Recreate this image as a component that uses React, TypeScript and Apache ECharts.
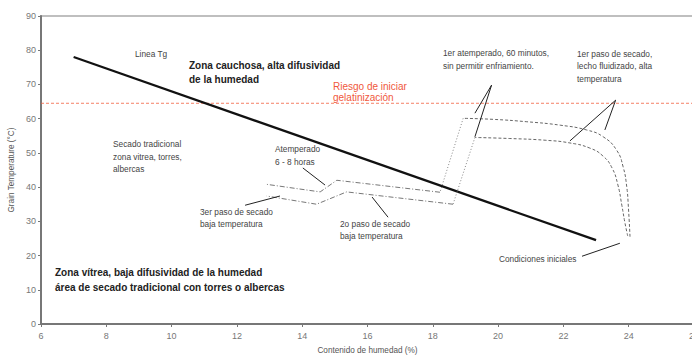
import React, { useEffect, useRef } from "react";
import * as echarts from "echarts";

// ---- data (moisture %, grain temperature °C) ----
const tgLine = [[7, 78], [23, 24.5]];
const gelatLimit = [[6, 64.5], [26, 64.5]];

const upperFluidized = [
  [24.04, 25.5], [23.99, 34.2], [23.94, 40.1], [23.83, 45.9], [23.63, 50.8],
  [23.22, 54.7], [22.71, 56.7], [21.9, 58.1], [20.88, 59.1], [19.85, 59.8], [18.93, 60.1],
];
const upperTemper = [[18.93, 60.1], [18.22, 38.5]];
const upperLowTemp = [[18.22, 38.5], [15.06, 42.0], [14.55, 38.6], [12.92, 40.8]];

const lowerFluidized = [
  [23.97, 25.7], [23.88, 29.8], [23.79, 34.7], [23.67, 40.6], [23.49, 45.6],
  [23.21, 49.1], [22.81, 51.4], [22.2, 52.9], [21.44, 53.7], [20.36, 54.2], [19.29, 54.5],
];
const lowerTemper = [[19.29, 54.5], [18.62, 35.0]];
const lowerLowTemp = [[18.62, 35.0], [15.36, 38.6], [14.44, 35.0], [12.91, 37.4]];

// arrows: [fromX, fromY, toX, toY]
const arrows = [
  [14.02, 45.6, 14.7, 40.6],
  [12.25, 34.7, 13.32, 37.4],
  [16.63, 31.2, 16.14, 37.1],
  [19.8, 69.8, 19.29, 61.6],
  [19.8, 69.8, 19.29, 54.7],
  [23.6, 65.4, 23.27, 56.7],
  [23.6, 65.4, 22.2, 53.5],
  [22.57, 19.8, 23.73, 23.6],
];

const xName = "Contenido de humedad (%)";
const yName = "Grain Temperature (°C)";

type Note = { t: string; x: number; y: number; bold?: boolean; red?: boolean };
const notes: Note[] = [
  { t: "Linea Tg", x: 135, y: 54 },
  { t: "Zona cauchosa, alta difusividad", x: 189, y: 65, bold: true },
  { t: "de la humedad", x: 189, y: 79, bold: true },
  { t: "Riesgo de iniciar", x: 333, y: 86, red: true },
  { t: "gelatinización", x: 333, y: 97, red: true },
  { t: "1er atemperado, 60 minutos,", x: 443, y: 53 },
  { t: "sin permitir enfriamiento.", x: 443, y: 66 },
  { t: "1er paso de secado,", x: 577, y: 54 },
  { t: "lecho fluidizado, alta", x: 577, y: 66 },
  { t: "temperatura", x: 577, y: 79 },
  { t: "Secado tradicional", x: 113, y: 144 },
  { t: "zona vitrea, torres,", x: 113, y: 157 },
  { t: "albercas", x: 113, y: 169 },
  { t: "Atemperado", x: 275, y: 149 },
  { t: "6 - 8 horas", x: 275, y: 162 },
  { t: "3er paso de secado", x: 200, y: 212 },
  { t: "baja temperatura", x: 200, y: 224 },
  { t: "2o paso de secado", x: 340, y: 224 },
  { t: "baja temperatura", x: 340, y: 236 },
  { t: "Condiciones iniciales", x: 499, y: 259 },
  { t: "Zona vítrea, baja difusividad de la humedad", x: 55, y: 272, bold: true },
  { t: "área de secado tradicional con torres o albercas", x: 55, y: 287, bold: true },
];

const FONT = "'Liberation Sans', Arial, sans-serif";

export default function App() {
  const ref = useRef<HTMLDivElement>(null);
  useEffect(() => {
    document.body.style.margin = "0";
    const chart = echarts.init(ref.current!, undefined, { renderer: "svg" });
    const curve = (data: number[][], type: any, color: string, smooth = false) => ({
      type: "line",
      data,
      showSymbol: false,
      symbol: "none",
      smooth,
      silent: true,
      lineStyle: { color, width: 1, type },
      z: 3,
    });
    chart.setOption({
      animation: false,
      textStyle: { fontFamily: FONT },
      grid: {
        left: 41,
        top: 16,
        width: 653,
        height: 308,
        show: true,
        borderColor: "#aaa",
        borderWidth: 1.5,
        containLabel: false,
        outerBoundsMode: "none",
      },
      xAxis: {
        type: "value",
        min: 6,
        max: 26,
        interval: 2,
        name: xName,
        nameLocation: "middle",
        nameGap: 22,
        nameTextStyle: { color: "#555", fontSize: 8.2, fontFamily: FONT },
        axisLine: { lineStyle: { color: "#777", width: 2 } },
        axisTick: { show: true, length: 3, lineStyle: { color: "#777" } },
        axisLabel: { color: "#777", fontSize: 9, margin: 7, fontFamily: FONT },
        splitLine: { show: false },
      },
      yAxis: {
        type: "value",
        min: 0,
        max: 90,
        interval: 10,
        name: yName,
        nameLocation: "middle",
        nameGap: 22,
        nameTextStyle: { color: "#555", fontSize: 8.2, fontFamily: FONT },
        axisLine: { show: true, lineStyle: { color: "#777", width: 2 } },
        axisTick: { show: true, length: 3, lineStyle: { color: "#777" } },
        axisLabel: { color: "#777", fontSize: 9, margin: 5, fontFamily: FONT },
        splitLine: { show: false },
      },
      series: [
        { ...curve(gelatLimit, [4, 2], "#f2603f"), lineStyle: { color: "#f2603f", width: 0.8, type: [3, 2] } },
        { ...curve(tgLine, "solid", "#111"), lineStyle: { color: "#111", width: 2.2 } },
        curve(upperFluidized, [3, 2], "#666", true),
        curve(upperTemper, [1, 2], "#888"),
        curve(upperLowTemp, [5, 2, 1, 2], "#777"),
        curve(lowerFluidized, [3, 2], "#666", true),
        curve(lowerTemper, [1, 2], "#888"),
        curve(lowerLowTemp, [5, 2, 1, 2], "#777"),
        {
          type: "line",
          data: [],
          silent: true,
          markLine: {
            silent: true,
            animation: false,
            symbol: ["none", "arrow"],
            symbolSize: [0, 6],
            label: { show: false },
            lineStyle: { color: "#222", width: 1, type: "solid" },
            data: arrows.map((a) => [
              { coord: [a[0], a[1]] },
              { coord: [a[2], a[3]] },
            ]),
          },
        },
      ],
      graphic: notes.map((n) => ({
        type: "text",
        x: n.x,
        y: n.y,
        silent: true,
        style: {
          text: n.t,
          fill: n.red ? "#f0583c" : n.bold ? "#222" : "#444",
          font: `${n.bold ? "bold " : ""}${n.bold || n.red ? 10 : 8.3}px ${FONT}`,
          textVerticalAlign: "middle",
          verticalAlign: "middle",
        },
      })),
    });
    return () => chart.dispose();
  }, []);
  return <div ref={ref} style={{ width: 692, height: 356 }} />;
}
